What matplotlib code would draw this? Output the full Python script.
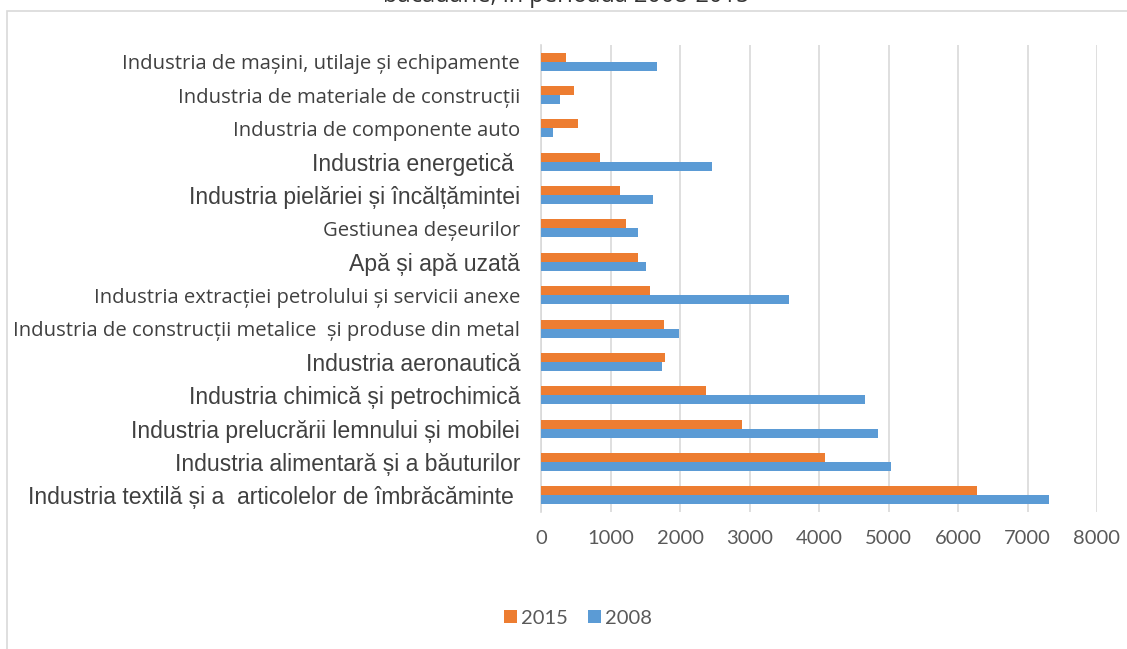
import matplotlib
matplotlib.use("Agg")
import matplotlib.pyplot as plt
from matplotlib.patches import Rectangle
import numpy as np

categories = [
    "Industria de mașini, utilaje și echipamente",
    "Industria de materiale de construcții",
    "Industria de componente auto",
    "Industria energetică ",
    "Industria pielăriei și încălțămintei",
    "Gestiunea deșeurilor",
    "Apă și apă uzată",
    "Industria extracției petrolului și servicii anexe",
    "Industria de construcții metalice  și produse din metal",
    "Industria aeronautică",
    "Industria chimică și petrochimică",
    "Industria prelucrării lemnului și mobilei",
    "Industria alimentară și a băuturilor",
    "Industria textilă și a  articolelor de îmbrăcăminte ",
]
values_2015 = [356, 471, 529, 856, 1130, 1216, 1399, 1570, 1773, 1789, 2371, 2892, 4083, 6273]
values_2008 = [1668, 274, 168, 2466, 1615, 1399, 1505, 3562, 1992, 1734, 4665, 4846, 5038, 7305]
series_labels = ["2015", "2008"]
x_ticks = [0, 1000, 2000, 3000, 4000, 5000, 6000, 7000, 8000]
title_text = "băcăuane, în perioada 2008-2015"

# label styles: small (Open Sans) vs large (Liberation Sans)
label_large = [False, False, False, True, True, False, True, False, False, True, True, True, True, True]

W, H = 1127, 649
fig = plt.figure(figsize=(W / 100, H / 100), dpi=100)

# chart frame
fig.patches.append(Rectangle((7 / W, -0.01), 1.02, 1 - 11 / H + 0.01, transform=fig.transFigure,
                             fill=False, edgecolor="#D9D9D9", linewidth=1.2))
fig.text(566 / W, 1 - 2 / H, title_text, ha="center", va="baseline", fontsize=17,
         color="#333333", family="Open Sans")

left, right = 541 / W, 1097 / W
top, bottom = 1 - 45 / H, 1 - 512 / H
ax = fig.add_axes([left, bottom, right - left, top - bottom])

y = np.arange(len(categories))
h = 0.27
orange = "#ED7D31"
blue = "#5B9BD5"
ax.barh(y - h / 2, values_2015, height=h, color=orange, label=series_labels[0], zorder=3)
ax.barh(y + h / 2, values_2008, height=h, color=blue, label=series_labels[1], zorder=3)

ax.set_ylim(len(categories) - 0.5, -0.5)
ax.set_xlim(0, 8000)
ax.set_xticks(x_ticks)
ax.set_xticklabels([str(t) for t in x_ticks], family="Lato", fontsize=14.5, color="#595959")
ax.tick_params(axis="x", length=0, pad=13)
ax.set_yticks(y)
ax.set_yticklabels(categories, color="#404040")
for lab, big in zip(ax.get_yticklabels(), label_large):
    if big:
        lab.set_fontfamily("Liberation Sans")
        lab.set_fontsize(16.6)
    else:
        lab.set_fontfamily("Open Sans")
        lab.set_fontsize(14.6)
ax.tick_params(axis="y", length=0, pad=15)
ax.grid(axis="x", color="#D9D9D9", linewidth=1.2, zorder=0)
for s in ["top", "right", "bottom"]:
    ax.spines[s].set_visible(False)
ax.spines["left"].set_color("#D9D9D9")
ax.spines["left"].set_linewidth(1.2)

handles, labels = ax.get_legend_handles_labels()
leg = fig.legend(handles, labels, loc="center", bbox_to_anchor=(578 / W, 1 - 618 / H), ncol=2,
                 frameon=False, prop={"family": "Lato", "size": 14.5}, handlelength=0.65,
                 handleheight=0.65, handletextpad=0.2, columnspacing=1.0)
for t in leg.get_texts():
    t.set_color("#595959")

fig.savefig("out.png", dpi=100)
